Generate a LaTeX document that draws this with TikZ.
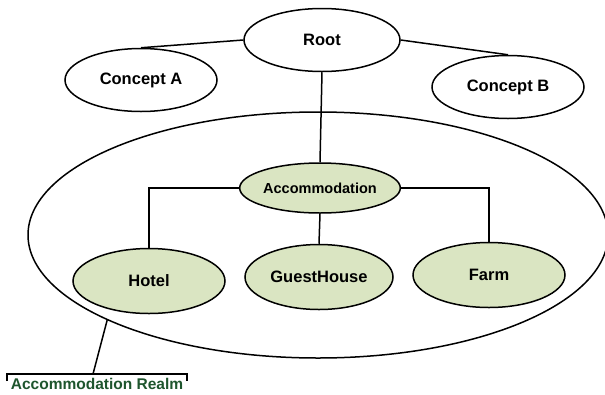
\documentclass[tikz,border=0pt]{standalone}
\usepackage{fontspec}
\setmainfont{Liberation Sans}
\usetikzlibrary{shapes.geometric}
\definecolor{conceptfill}{RGB}{218,229,194}
\definecolor{realmgreen}{RGB}{30,85,45}
\begin{document}
\begin{tikzpicture}[x=1pt,y=-1pt,
  concept/.style={ellipse,draw=black,line width=1.5pt,inner sep=0pt,
    font=\bfseries\fontsize{16.5}{18}\selectfont},
  subconcept/.style={concept,fill=conceptfill},
  link/.style={line width=1.5pt}]
\useasboundingbox (0,0) rectangle (605,394);
% top level concepts
\node[concept,minimum width=156,minimum height=63] (root) at (322,40) {Root};
\node[concept,minimum width=152,minimum height=63] (ca) at (141,80) {Concept A};
\node[concept,minimum width=152,minimum height=63] (cb) at (508,87) {Concept B};
% realm boundary
\node[ellipse,draw=black,line width=1.5pt,minimum width=580,minimum height=246] (realm) at (318,235) {};
% accommodation hierarchy
\node[subconcept,minimum width=152,minimum height=50,font=\bfseries\fontsize{14.5}{16}\selectfont] (acc) at (320,188) {Accommodation};
\node[subconcept,minimum width=152,minimum height=65] (hotel) at (149,281) {Hotel};
\node[subconcept,minimum width=148,minimum height=65] (gh) at (319,277) {GuestHouse};
\node[subconcept,minimum width=152,minimum height=65] (farm) at (489,275) {Farm};
% connectors
\draw[link] (root.west) -- (ca.north);
\draw[link] (root.east) -- (cb.north);
\draw[link] (root.south) -- (acc.north);
\draw[link] (acc.west) -| (hotel.north);
\draw[link] (acc.east) -| (farm.north);
\draw[link] (acc.south) -- (gh.north);
% realm label
\coordinate (rl) at (93,374);
\draw[link] (realm.202.5) -- (rl);
\draw[line width=1.2pt] (7,381) -- (7,374) -- (187,374) -- (187,381);
\node[anchor=north,text=realmgreen,font=\bfseries\fontsize{15.5}{17}\selectfont,inner sep=0pt] (label) at (97,378) {Accommodation Realm};
\end{tikzpicture}
\end{document}
